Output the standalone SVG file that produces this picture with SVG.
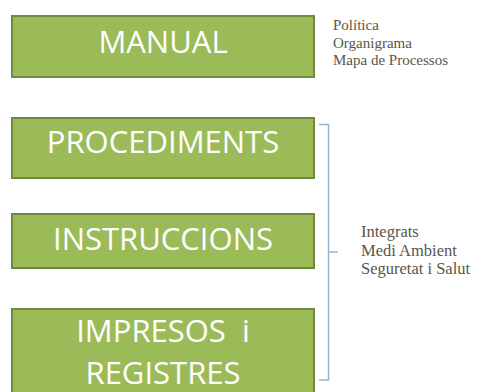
<svg xmlns="http://www.w3.org/2000/svg" width="478" height="392" viewBox="0 0 478 392">
<style>
.box{fill:#9bbb59;stroke:#71893f;stroke-width:2}
.bt{font-family:"Open Sans","Liberation Sans",sans-serif;font-size:31px;fill:#ffffff;text-anchor:middle}
.st{font-family:"Liberation Serif","DejaVu Serif",serif;font-size:15px;fill:#5a5648}
.st2{font-family:"Liberation Serif","DejaVu Serif",serif;font-size:16.5px;fill:#5a5648}
.br{fill:none;stroke:#95b3d7;stroke-width:1.5}
</style>
<rect width="478" height="392" fill="#ffffff"/>
<g id="manual">
<rect class="box" x="12" y="16" width="302" height="61"/>
<text class="bt" x="163" y="53">MANUAL</text>
</g>
<g id="procediments">
<rect class="box" x="12" y="118" width="302" height="60"/>
<text class="bt" x="163" y="153">PROCEDIMENTS</text>
</g>
<g id="instruccions">
<rect class="box" x="12" y="214" width="302" height="54"/>
<text class="bt" x="163" y="250">INSTRUCCIONS</text>
</g>
<g id="impresos">
<rect class="box" x="12" y="309" width="302" height="90"/>
<text class="bt" x="163" y="342" xml:space="preserve">IMPRESOS  i</text>
<text class="bt" x="163" y="384">REGISTRES</text>
</g>
<g id="notes-manual">
<text class="st" x="333" y="30">Política</text>
<text class="st" x="333" y="47.5">Organigrama</text>
<text class="st" x="333" y="65">Mapa de Processos</text>
</g>
<g id="connectors">
<path class="br" d="M319,124.5 H328.5 V380 H319 M328.5,252 H338"/>
</g>
<g id="notes-integrats">
<text class="st2" x="361" y="237">Integrats</text>
<text class="st2" x="361" y="255.5">Medi Ambient</text>
<text class="st2" x="361" y="274">Seguretat i Salut</text>
</g>
</svg>
